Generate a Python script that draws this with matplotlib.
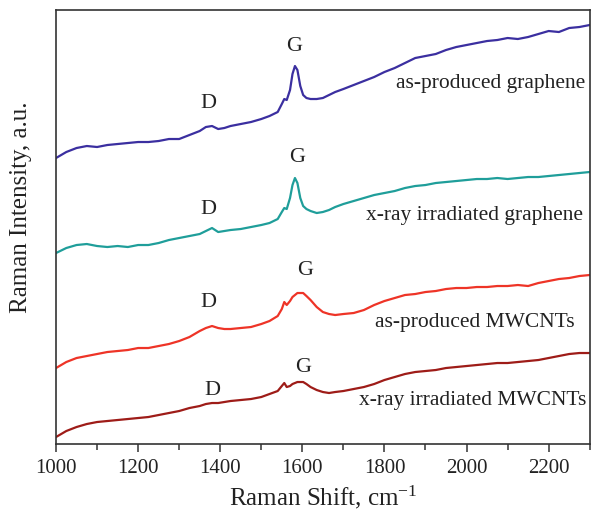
import matplotlib.pyplot as plt
from matplotlib.ticker import MultipleLocator

# Raman shift grid, cm^-1 (denser around the D and G bands)
shift = [1000, 1025, 1050, 1075, 1100, 1125, 1150, 1175, 1200, 1225, 1250, 1275,
         1300, 1325, 1350, 1365, 1380, 1395, 1410, 1425, 1450, 1475, 1500, 1520,
         1540, 1550, 1556, 1562, 1570, 1576, 1582, 1588, 1595, 1602, 1610, 1620,
         1635, 1650, 1665, 1680, 1700, 1725, 1750, 1775, 1800, 1825, 1850, 1875,
         1900, 1925, 1950, 1975, 2000, 2025, 2050, 2075, 2100, 2125, 2150, 2175,
         2200, 2225, 2250, 2275, 2300]

# spectra, already stacked with an offset (a.u.)
graphene_as = [286, 292, 296, 298, 297, 299, 300, 301, 302, 302, 303, 305,
               305, 309, 313, 317, 318, 315, 316, 318, 320, 322, 325, 328,
               332, 340, 345, 344, 354, 370, 378, 374, 358, 349, 346, 345,
               345, 346, 349, 352, 355, 359, 363, 367, 372, 376, 381, 386,
               388, 390, 394, 397, 399, 401, 403, 404, 406, 405, 407, 410,
               413, 412, 416, 417, 419]
graphene_xray = [191, 196, 199, 200, 198, 197, 198, 197, 199, 199, 201, 204,
                 206, 208, 210, 213, 216, 212, 213, 214, 215, 217, 219, 221,
                 225, 232, 236, 235, 246, 259, 266, 261, 246, 238, 235, 233,
                 231, 232, 234, 237, 240, 243, 246, 249, 251, 253, 256, 258,
                 259, 261, 262, 263, 264, 265, 265, 266, 265, 266, 267, 267,
                 268, 269, 270, 271, 272]
mwcnt_as = [76, 82, 86, 88, 90, 92, 93, 94, 96, 96, 98, 100,
            103, 107, 113, 116, 118, 116, 115, 115, 116, 117, 120, 123,
            128, 135, 142, 139, 143, 147, 149, 151, 151, 151, 148, 144,
            137, 132, 130, 129, 130, 131, 134, 139, 143, 146, 149, 150,
            152, 153, 155, 156, 156, 157, 157, 158, 158, 159, 158, 161,
            163, 165, 166, 168, 169]
mwcnt_xray = [7, 13, 17, 20, 22, 23, 24, 25, 26, 27, 29, 31,
              33, 36, 38, 40, 41, 41, 42, 43, 44, 45, 47, 50,
              53, 58, 61, 57, 58, 60, 61, 62, 62, 62, 60, 57,
              54, 52, 51, 52, 53, 55, 57, 60, 64, 67, 70, 72,
              73, 74, 76, 77, 78, 79, 80, 81, 81, 82, 83, 84,
              86, 88, 90, 91, 91]

names = ['as-produced graphene', 'x-ray irradiated graphene',
         'as-produced MWCNTs', 'x-ray irradiated MWCNTs']
# (x, y) of the D label, G label and the sample name for each spectrum
d_pos = [(1372, 341), (1372, 235), (1370, 142), (1382, 54)]
g_pos = [(1580, 398), (1587, 287), (1606, 174), (1601, 77)]
name_pos = [(2290, 361), (2283, 229), (2263, 122), (2292, 44)]

colors = ['#3b2fa0', '#1f9e9a', '#ee3427', '#9e1c18']

plt.rcParams['font.family'] = ['Liberation Serif', 'DejaVu Serif']
plt.rcParams['mathtext.fontset'] = 'custom'
plt.rcParams['mathtext.rm'] = 'Liberation Serif'
plt.rcParams['mathtext.it'] = 'Liberation Serif:italic'

fig = plt.figure(figsize=(5.91, 5.16), dpi=100, facecolor='white')
ax = fig.add_axes([0.0948, 0.1395, 0.903, 0.8411])

spectra = [graphene_as, graphene_xray, mwcnt_as, mwcnt_xray]
for i in range(len(spectra)):
    ax.plot(shift, spectra[i], color=colors[i], linewidth=1.6)
    ax.text(d_pos[i][0], d_pos[i][1], 'D', fontsize=16, color='#222222',
            ha='center', va='center')
    ax.text(g_pos[i][0], g_pos[i][1], 'G', fontsize=16, color='#222222',
            ha='center', va='center')
    ax.text(name_pos[i][0], name_pos[i][1], names[i], fontsize=15.5,
            color='#222222', ha='right', va='center')

ax.set_xlim(1000, 2300)
ax.set_ylim(0, 434)

ax.xaxis.set_major_locator(MultipleLocator(200))
ax.xaxis.set_minor_locator(MultipleLocator(100))
ax.tick_params(axis='x', which='major', direction='out', length=6, width=1.1,
               labelsize=15, colors='#333333', labelcolor='#222222', pad=5)
ax.tick_params(axis='x', which='minor', direction='out', length=4, width=1.1,
               colors='#333333')
ax.set_yticks([])

for side in ['top', 'right', 'left', 'bottom']:
    ax.spines[side].set_color('#333333')
    ax.spines[side].set_linewidth(1.2)

ax.set_xlabel(r'Raman Shift, cm$^{\mathrm{-1}}$', fontsize=18, color='#222222',
              labelpad=4)
ax.set_ylabel('Raman Intensity, a.u.', fontsize=18, color='#222222')
ax.yaxis.set_label_coords(-0.045, 0.546)

plt.savefig('out.png', dpi=100, facecolor='white')
